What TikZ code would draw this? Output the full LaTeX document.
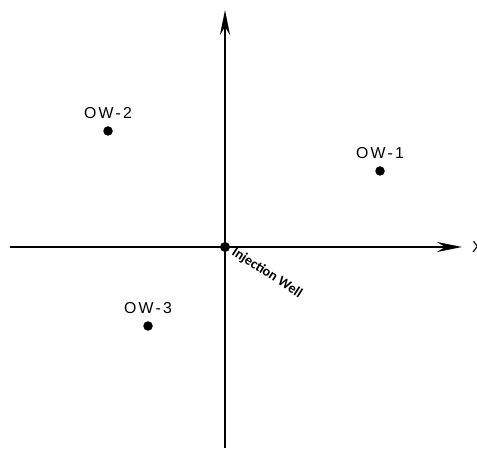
\documentclass[tikz,border=0pt]{standalone}
\usepackage{fontspec}
\setsansfont{Liberation Sans}
\newfontfamily\wellfont{Liberation Sans}[LetterSpace=14]
\newfontfamily\labelfont{Carlito}
\usetikzlibrary{arrows.meta}

\begin{document}
\begin{tikzpicture}[axis/.style={-{Stealth[length=0.5cm,width=0.2cm]}, line width=1.2pt},
  well/.style={circle, fill=black, inner sep=0pt, minimum size=0.19cm},
  wname/.style={font=\wellfont\small, above=0.13cm}]
  \useasboundingbox (0,0) rectangle (9.54,8.96);

  % Axes
  \coordinate (xl) at (0.2,4.02);
  \coordinate (xr) at (9.24,4.02);
  \coordinate (yb) at (4.5,0);
  \coordinate (yt) at (4.5,8.76);
  \draw[axis] (xl) -- (xr);
  \draw[axis] (yb) -- (yt);
  \node[right, font=\sffamily\small, inner sep=1pt] (xlab) at (9.4,4.02) {X};

  % Injection well at the origin
  \node[well, minimum size=0.2cm] (inj) at (4.5,4.02) {};
  \node[font=\labelfont\bfseries\footnotesize, rotate=-33] (injlab) at (5.34,3.5) {Injection Well};

  % Observation wells
  \node[well] (ow1) at (7.6,5.54) {};
  \node[well] (ow2) at (2.16,6.34) {};
  \node[well] (ow3) at (2.96,2.44) {};
  \node[wname] at (ow1) {OW-1};
  \node[wname] at (ow2) {OW-2};
  \node[wname] at (ow3) {OW-3};
\end{tikzpicture}
\end{document}
